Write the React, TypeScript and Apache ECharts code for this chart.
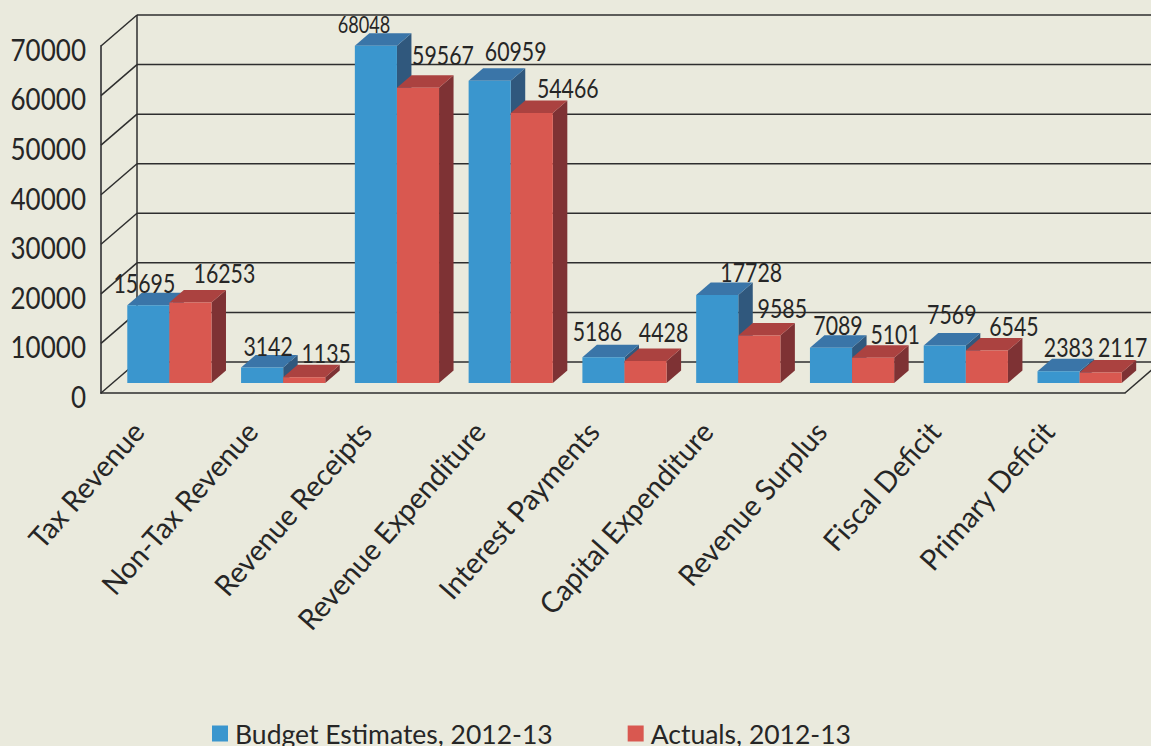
import React, { useEffect, useRef } from "react";
import * as echarts from "echarts";

const categories = [
  "Tax Revenue",
  "Non-Tax Revenue",
  "Revenue Receipts",
  "Revenue Expenditure",
  "Interest Payments",
  "Capital Expenditure",
  "Revenue Surplus",
  "Fiscal Deficit",
  "Primary Deficit",
];
const budgetEstimates = [15695, 3142, 68048, 60959, 5186, 17728, 7089, 7569, 2383];
const actuals = [16253, 1135, 59567, 54466, 4428, 9585, 5101, 6545, 2117];
const wallTicks = [0, 10000, 20000, 30000, 40000, 50000, 60000, 70000];

// Hand placement of the value labels, relative to the top centre of each bar's front face.
// An optional third entry shrinks a label that sits tight against the top of the plot.
const budgetLabelNudge = [
  [-4, -22], [6, -21], [-12, -21, 0.85], [26, -30], [-6, -26], [34, -23], [7, -23], [7, -31], [10, -24],
];
const actualLabelNudge = [
  [34, -29], [22, -24], [25, -33], [36, -25], [18, -29], [23, -27], [22, -24], [27, -24], [22, -25],
];

const FONT = 'Lato, "Noto Sans", sans-serif';
const INK = "#262626";
const PAPER = "#eaeadd";

// Depth of the floor and walls, and of each bar, in pixels.
const WALL_DX = 36;
const WALL_DY = -31;
const BAR_SHIFT_X = 11.5;
const BAR_SHIFT_Y = -10;
const BAR_DX = 14.5;
const BAR_DY = -12.5;
const BAR_BAND = 0.37;

type Shades = { front: string; top: string; side: string };
const BLUE: Shades = { front: "#3a96ce", top: "#3a75a8", side: "#30587d" };
const RED: Shades = { front: "#d95850", top: "#ab4240", side: "#7e3234" };

function bar3d(shades: Shades, side: -1 | 1, nudges: number[][]) {
  return (params: any, api: any) => {
    const idx = api.value(0);
    const value = api.value(1);
    const base = api.coord([idx, 0]);
    const top = api.coord([idx, value]);
    const w = api.size([1, 0])[0] * BAR_BAND;
    const x0 = base[0] + BAR_SHIFT_X + (side < 0 ? -w : 0);
    const x1 = x0 + w;
    const yb = base[1] + BAR_SHIFT_Y;
    const yt = top[1] + BAR_SHIFT_Y;
    const nudge = nudges[idx];
    const shrink = nudge[2] ?? 1;
    return {
      type: "group",
      children: [
        {
          type: "polygon",
          shape: { points: [[x1, yb], [x1 + BAR_DX, yb + BAR_DY], [x1 + BAR_DX, yt + BAR_DY], [x1, yt]] },
          style: { fill: shades.side },
        },
        {
          type: "polygon",
          shape: { points: [[x0, yt], [x0 + BAR_DX, yt + BAR_DY], [x1 + BAR_DX, yt + BAR_DY], [x1, yt]] },
          style: { fill: shades.top },
        },
        {
          type: "rect",
          shape: { x: x0, y: yt, width: w, height: yb - yt },
          style: { fill: shades.front },
        },
        {
          type: "text",
          z2: 10,
          x: (x0 + x1) / 2 + nudge[0],
          y: yt + nudge[1],
          scaleX: 0.82 * shrink,
          scaleY: shrink,
          style: {
            text: String(value),
            fill: INK,
            font: `26px ${FONT}`,
            align: "center",
            verticalAlign: "middle",
          },
        },
      ],
    };
  };
}

// Back wall line, left wall diagonal and value label for one axis tick.
function wallLine(params: any, api: any) {
  const cs = params.coordSys;
  const tick = api.value(0);
  const y = api.coord([0, tick])[1];
  const stroke = { stroke: "#2e2e2e", lineWidth: 1.5 };
  const right = cs.x + cs.width;
  const children: any[] = [
    { type: "line", shape: { x1: cs.x, y1: y, x2: cs.x + WALL_DX, y2: y + WALL_DY }, style: stroke },
    { type: "line", shape: { x1: cs.x + WALL_DX, y1: y + WALL_DY, x2: right + WALL_DX, y2: y + WALL_DY }, style: stroke },
    {
      type: "text",
      x: cs.x - 15,
      y: y + 3,
      scaleX: 0.84,
      style: {
        text: String(tick),
        fill: INK,
        font: `31px ${FONT}`,
        align: "right",
        verticalAlign: "middle",
      },
    },
  ];
  if (params.dataIndex === 0) {
    children.push(
      { type: "line", shape: { x1: right, y1: y, x2: right + WALL_DX, y2: y + WALL_DY }, style: stroke },
      { type: "line", shape: { x1: cs.x + WALL_DX, y1: cs.y + WALL_DY, x2: cs.x + WALL_DX, y2: y + WALL_DY }, style: stroke },
    );
  }
  return { type: "group", children };
}

// Slanted category name under each group of bars.
function categoryLabel(params: any, api: any) {
  const idx = api.value(0);
  const p = api.coord([idx, 0]);
  return {
    type: "text",
    x: p[0] - 20,
    y: p[1] + 33,
    rotation: (48.5 * Math.PI) / 180,
    scaleX: 0.98,
    style: {
      text: categories[idx],
      fill: INK,
      font: `29px ${FONT}`,
      align: "right",
      verticalAlign: "middle",
    },
  };
}

export default function App() {
  const ref = useRef<HTMLDivElement>(null);

  useEffect(() => {
    document.body.style.margin = "0";
    document.body.style.background = PAPER;
    const chart = echarts.init(ref.current!, undefined, { renderer: "svg" });
    chart.setOption({
      animation: false,
      backgroundColor: PAPER,
      grid: { left: 101, top: 46, width: 1024, height: 347, outerBoundsMode: "none" },
      legend: {
        left: 212,
        top: 720,
        padding: 0,
        itemWidth: 16,
        itemHeight: 16,
        itemGap: 75,
        icon: "rect",
        textStyle: { fontFamily: FONT, fontSize: 26.5, lineHeight: 24, color: INK, padding: [0, 0, 0, 2] },
        data: ["Budget Estimates, 2012-13", "Actuals, 2012-13"],
      },
      xAxis: {
        type: "category",
        data: categories,
        axisLine: { show: true, lineStyle: { color: "#2e2e2e", width: 1.5 } },
        axisTick: { show: false },
        splitLine: { show: false },
        axisLabel: { show: false },
      },
      yAxis: {
        type: "value",
        min: 0,
        max: 70000,
        interval: 10000,
        splitLine: { show: false },
        axisTick: { show: false },
        axisLine: { show: true, lineStyle: { color: "#555555", width: 2 } },
        axisLabel: { show: false },
      },
      series: [
        {
          type: "custom",
          silent: true,
          z: 1,
          renderItem: wallLine,
          encode: { y: 0 },
          data: wallTicks.map((t) => [t]),
        },
        {
          type: "custom",
          silent: true,
          z: 1,
          renderItem: categoryLabel,
          encode: { x: 0 },
          data: categories.map((_, i) => [i]),
        },
        {
          name: "Budget Estimates, 2012-13",
          type: "custom",
          z: 2,
          itemStyle: { color: BLUE.front },
          renderItem: bar3d(BLUE, -1, budgetLabelNudge),
          encode: { x: 0, y: 1 },
          data: budgetEstimates.map((v, i) => [i, v]),
        },
        {
          name: "Actuals, 2012-13",
          type: "custom",
          z: 3,
          itemStyle: { color: RED.front },
          renderItem: bar3d(RED, 1, actualLabelNudge),
          encode: { x: 0, y: 1 },
          data: actuals.map((v, i) => [i, v]),
        },
      ],
    });
    return () => chart.dispose();
  }, []);

  return (
    <div
      ref={ref}
      style={{ position: "fixed", left: 0, top: 0, width: 1151, height: 746 }}
    />
  );
}
